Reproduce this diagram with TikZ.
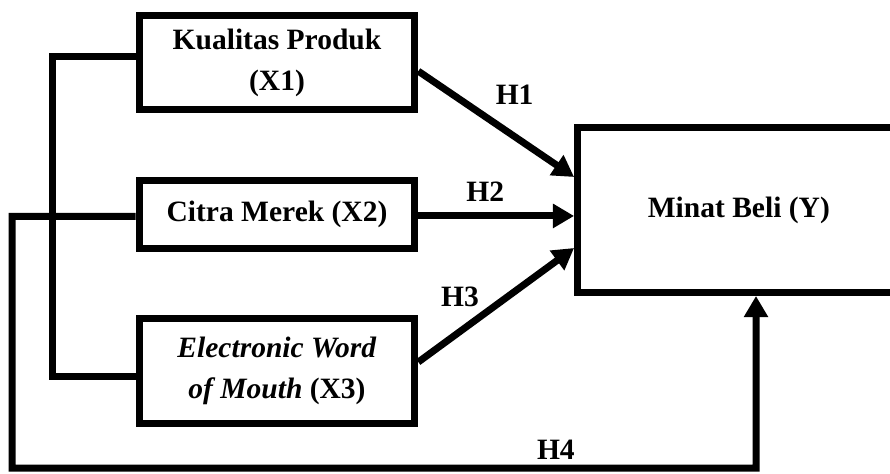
\documentclass[tikz,border=0pt]{standalone}
\usepackage{fontspec}
\setmainfont{Liberation Serif}
\usetikzlibrary{arrows.meta}
\tikzset{bx/.style = {rectangle, line width=1.75mm, minimum width=68.9mm, inner sep=0pt, align=center, draw, font=\fontsize{21}{29.6}\selectfont\bfseries},
         hy/.style = {inner sep=2pt, font=\fontsize{21}{25}\selectfont\bfseries},
         ln/.style = {line width=1.75mm}}

\begin{document}
\begin{tikzpicture}[>={Triangle[length=5.3mm, width=5.8mm]}]
    \path[use as bounding box, clip] (0,0) rectangle (22.25,11.825);
    \node[bx, minimum height=23.6mm] (x1) at (6.925,10.256) {Kualitas Produk\\(X1)};
    \node[bx, minimum height=16.9mm] (x2) at (6.925,6.466) {Citra Merek (X2)};
    \node[bx, minimum height=26.2mm] (x3) at (6.925,2.554) {\textit{Electronic Word}\\\textit{of Mouth} (X3)};
    \node[bx, minimum width=80.6mm, minimum height=41.25mm] (y) at (18.47,6.575) {Minat Beli (Y)};
    \coordinate (a) at (0.3,0.125); \coordinate (b) at (18.9,0.125);
    \draw[ln] ([yshift=1.5mm]x1.west) -- ++(-2.09,0) |- ([yshift=-1.3mm]x3.west);
    \draw[ln, ->] ([yshift=-2.1mm]x1.east) -- node[hy, pos=.425, anchor=south west, inner sep=5.5pt] {H1} ([yshift=8.25mm]y.west);
    \draw[ln, ->] ([yshift=-0.4mm]x2.east) -- node[hy, pos=.43, anchor=south, inner sep=7.8pt] {H2} ([yshift=-0.4mm]x2.east -| y.west);
    \draw[ln, ->] ([yshift=2.2mm]x3.east) -- node[hy, pos=.43, anchor=south east, inner sep=2.1pt] {H3} ([yshift=-9.5mm]y.west);
    \draw[ln, ->] ([yshift=-0.5mm]x2.west) -| (a) -- node[hy, pos=.731, anchor=south, inner sep=3.5pt] {H4} (b) -- ([xshift=4.3mm]y.south);
\end{tikzpicture}
\end{document}
